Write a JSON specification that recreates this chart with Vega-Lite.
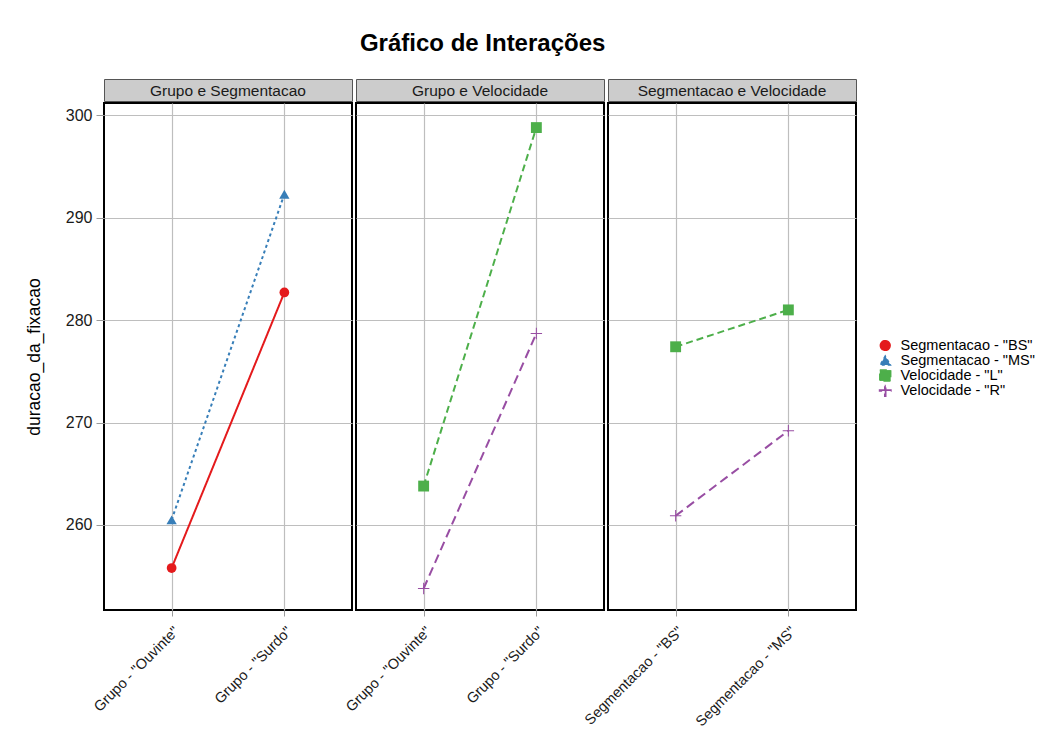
{
  "$schema": "https://vega.github.io/schema/vega-lite/v6.json",
  "background": "white",
  "padding": {"left": 24, "top": 31, "right": 5, "bottom": 5},
  "title": {"text": "Gráfico de Interações", "fontSize": 24, "fontWeight": "bold", "font": "Liberation Sans", "color": "black", "anchor": "middle", "dx": -47, "offset": 23},
  "config": {
    "font": "Liberation Sans",
    "axis": {"gridColor": "#bebebe", "gridWidth": 1.2, "tickColor": "#9a9a9a", "tickSize": 6, "domain": false, "labelColor": "#1a1a1a", "labelFont": "Liberation Sans", "titleFont": "Liberation Sans"},
    "legend": {"labelFont": "Liberation Sans"}
  },
  "datasets": {
    "d": [
      {"panel": "Grupo e Segmentacao", "x": "Grupo - \"Ouvinte\"", "serie": "Segmentacao - \"BS\"", "valor": 255.8},
      {"panel": "Grupo e Segmentacao", "x": "Grupo - \"Surdo\"", "serie": "Segmentacao - \"BS\"", "valor": 282.7},
      {"panel": "Grupo e Segmentacao", "x": "Grupo - \"Ouvinte\"", "serie": "Segmentacao - \"MS\"", "valor": 260.5},
      {"panel": "Grupo e Segmentacao", "x": "Grupo - \"Surdo\"", "serie": "Segmentacao - \"MS\"", "valor": 292.3},
      {"panel": "Grupo e Velocidade", "x": "Grupo - \"Ouvinte\"", "serie": "Velocidade - \"L\"", "valor": 263.8},
      {"panel": "Grupo e Velocidade", "x": "Grupo - \"Surdo\"", "serie": "Velocidade - \"L\"", "valor": 298.8},
      {"panel": "Grupo e Velocidade", "x": "Grupo - \"Ouvinte\"", "serie": "Velocidade - \"R\"", "valor": 253.8},
      {"panel": "Grupo e Velocidade", "x": "Grupo - \"Surdo\"", "serie": "Velocidade - \"R\"", "valor": 278.7},
      {"panel": "Segmentacao e Velocidade", "x": "Segmentacao - \"BS\"", "serie": "Velocidade - \"L\"", "valor": 277.4},
      {"panel": "Segmentacao e Velocidade", "x": "Segmentacao - \"MS\"", "serie": "Velocidade - \"L\"", "valor": 281.0},
      {"panel": "Segmentacao e Velocidade", "x": "Segmentacao - \"BS\"", "serie": "Velocidade - \"R\"", "valor": 260.9},
      {"panel": "Segmentacao e Velocidade", "x": "Segmentacao - \"MS\"", "serie": "Velocidade - \"R\"", "valor": 269.2}
    ]
  },
  "spacing": 0,
  "vconcat": [
    {
      "spacing": 4,
      "bounds": "flush",
      "hconcat": [
        {
          "width": 248, "height": 22,
          "data": {"name": "d"},
          "transform": [{"filter": "datum.panel === 'Grupo e Segmentacao'"}, {"aggregate": [{"op": "count", "as": "n"}], "groupby": ["panel"]}],
          "view": {"fill": "#cccccc", "stroke": "#555555", "strokeWidth": 1},
          "mark": {"type": "text", "fontSize": 15.5, "color": "#1a1a1a", "baseline": "middle", "dy": 1},
          "encoding": {"text": {"field": "panel"}}
        },
        {
          "width": 248, "height": 22,
          "data": {"name": "d"},
          "transform": [{"filter": "datum.panel === 'Grupo e Velocidade'"}, {"aggregate": [{"op": "count", "as": "n"}], "groupby": ["panel"]}],
          "view": {"fill": "#cccccc", "stroke": "#555555", "strokeWidth": 1},
          "mark": {"type": "text", "fontSize": 15.5, "color": "#1a1a1a", "baseline": "middle", "dy": 1},
          "encoding": {"text": {"field": "panel"}}
        },
        {
          "width": 248, "height": 22,
          "data": {"name": "d"},
          "transform": [{"filter": "datum.panel === 'Segmentacao e Velocidade'"}, {"aggregate": [{"op": "count", "as": "n"}], "groupby": ["panel"]}],
          "view": {"fill": "#cccccc", "stroke": "#555555", "strokeWidth": 1},
          "mark": {"type": "text", "fontSize": 15.5, "color": "#1a1a1a", "baseline": "middle", "dy": 1},
          "encoding": {"text": {"field": "panel"}}
        }
      ]
    },
    {
      "spacing": 4,
      "bounds": "flush",
      "hconcat": [
        {
          "width": 248, "height": 507,
          "data": {"name": "d"},
          "transform": [{"filter": "datum.panel === 'Grupo e Segmentacao'"}],
          "view": {"stroke": "black", "strokeWidth": 2},
          "encoding": {
            "x": {"field": "x", "type": "nominal", "sort": null, "scale": {"type": "point", "padding": 0.6}, "axis": {"title": null, "labelAngle": -45, "labelFontSize": 14.5, "grid": true, "labelPadding": 8}},
            "y": {"field": "valor", "type": "quantitative", "scale": {"domain": [251.7, 301.2], "nice": false, "zero": false}, "axis": {"title": "duracao_da_fixacao", "titleFontSize": 17.5, "titleFontWeight": "normal", "titleColor": "black", "titlePadding": 22, "labelFontSize": 16, "tickSize": 8, "labelPadding": 4, "values": [260, 270, 280, 290, 300], "grid": true}},
            "color": {"field": "serie", "type": "nominal", "scale": {"domain": ["Segmentacao - \"BS\"", "Segmentacao - \"MS\"", "Velocidade - \"L\"", "Velocidade - \"R\""], "range": ["#E41A1C", "#377EB8", "#4DAF4A", "#984EA3"]}, "legend": {"title": null, "orient": "none", "legendX": 774, "legendY": 260, "labelFontSize": 14.5, "symbolSize": 110, "clipHeight": 13, "rowPadding": 0, "labelOffset": 8, "labelColor": "black"}},
            "size": {"field": "serie", "type": "nominal", "scale": {"domain": ["Segmentacao - \"BS\"", "Segmentacao - \"MS\"", "Velocidade - \"L\"", "Velocidade - \"R\""], "range": [95, 130, 115, 250]}, "legend": null}
          },
          "layer": [
            {"mark": {"type": "line", "strokeWidth": 2}, "encoding": {"size": {"value": 2}, "strokeDash": {"field": "serie", "type": "nominal", "scale": {"domain": ["Segmentacao - \"BS\"", "Segmentacao - \"MS\"", "Velocidade - \"L\"", "Velocidade - \"R\""], "range": [[1, 0], [3, 3], [7, 4], [9, 5]]}, "legend": null}}},
            {"mark": {"type": "point", "filled": true, "opacity": 1}, "encoding": {"shape": {"field": "serie", "type": "nominal", "scale": {"domain": ["Segmentacao - \"BS\"", "Segmentacao - \"MS\"", "Velocidade - \"L\"", "Velocidade - \"R\""], "range": ["circle", "triangle-up", "square", "M-1,-0.09H-0.09V-1H0.09V-0.09H1V0.09H0.09V1H-0.09V0.09H-1Z"]}, "legend": {"title": null, "orient": "none", "legendX": 774, "legendY": 260}}}}
          ]
        },
        {
          "width": 248, "height": 507,
          "data": {"name": "d"},
          "transform": [{"filter": "datum.panel === 'Grupo e Velocidade'"}],
          "view": {"stroke": "black", "strokeWidth": 2},
          "encoding": {
            "x": {"field": "x", "type": "nominal", "sort": null, "scale": {"type": "point", "padding": 0.6}, "axis": {"title": null, "labelAngle": -45, "labelFontSize": 14.5, "grid": true, "labelPadding": 8}},
            "y": {"field": "valor", "type": "quantitative", "scale": {"domain": [251.7, 301.2], "nice": false, "zero": false}, "axis": {"title": null, "labels": false, "ticks": false, "values": [260, 270, 280, 290, 300], "grid": true}},
            "color": {"field": "serie", "type": "nominal", "scale": {"domain": ["Segmentacao - \"BS\"", "Segmentacao - \"MS\"", "Velocidade - \"L\"", "Velocidade - \"R\""], "range": ["#E41A1C", "#377EB8", "#4DAF4A", "#984EA3"]}, "legend": {"title": null, "orient": "none", "legendX": 774, "legendY": 260, "labelFontSize": 14.5, "symbolSize": 110, "clipHeight": 13, "rowPadding": 0, "labelOffset": 8, "labelColor": "black"}},
            "size": {"field": "serie", "type": "nominal", "scale": {"domain": ["Segmentacao - \"BS\"", "Segmentacao - \"MS\"", "Velocidade - \"L\"", "Velocidade - \"R\""], "range": [95, 130, 115, 250]}, "legend": null}
          },
          "layer": [
            {"mark": {"type": "line", "strokeWidth": 2}, "encoding": {"size": {"value": 2}, "strokeDash": {"field": "serie", "type": "nominal", "scale": {"domain": ["Segmentacao - \"BS\"", "Segmentacao - \"MS\"", "Velocidade - \"L\"", "Velocidade - \"R\""], "range": [[1, 0], [3, 3], [7, 4], [9, 5]]}, "legend": null}}},
            {"mark": {"type": "point", "filled": true, "opacity": 1}, "encoding": {"shape": {"field": "serie", "type": "nominal", "scale": {"domain": ["Segmentacao - \"BS\"", "Segmentacao - \"MS\"", "Velocidade - \"L\"", "Velocidade - \"R\""], "range": ["circle", "triangle-up", "square", "M-1,-0.09H-0.09V-1H0.09V-0.09H1V0.09H0.09V1H-0.09V0.09H-1Z"]}, "legend": {"title": null, "orient": "none", "legendX": 774, "legendY": 260}}}}
          ]
        },
        {
          "width": 248, "height": 507,
          "data": {"name": "d"},
          "transform": [{"filter": "datum.panel === 'Segmentacao e Velocidade'"}],
          "view": {"stroke": "black", "strokeWidth": 2},
          "encoding": {
            "x": {"field": "x", "type": "nominal", "sort": null, "scale": {"type": "point", "padding": 0.6}, "axis": {"title": null, "labelAngle": -45, "labelFontSize": 14.5, "grid": true, "labelPadding": 8}},
            "y": {"field": "valor", "type": "quantitative", "scale": {"domain": [251.7, 301.2], "nice": false, "zero": false}, "axis": {"title": null, "labels": false, "ticks": false, "values": [260, 270, 280, 290, 300], "grid": true}},
            "color": {"field": "serie", "type": "nominal", "scale": {"domain": ["Segmentacao - \"BS\"", "Segmentacao - \"MS\"", "Velocidade - \"L\"", "Velocidade - \"R\""], "range": ["#E41A1C", "#377EB8", "#4DAF4A", "#984EA3"]}, "legend": {"title": null, "orient": "none", "legendX": 774, "legendY": 260, "labelFontSize": 14.5, "symbolSize": 110, "clipHeight": 13, "rowPadding": 0, "labelOffset": 8, "labelColor": "black"}},
            "size": {"field": "serie", "type": "nominal", "scale": {"domain": ["Segmentacao - \"BS\"", "Segmentacao - \"MS\"", "Velocidade - \"L\"", "Velocidade - \"R\""], "range": [95, 130, 115, 250]}, "legend": null}
          },
          "layer": [
            {"mark": {"type": "line", "strokeWidth": 2}, "encoding": {"size": {"value": 2}, "strokeDash": {"field": "serie", "type": "nominal", "scale": {"domain": ["Segmentacao - \"BS\"", "Segmentacao - \"MS\"", "Velocidade - \"L\"", "Velocidade - \"R\""], "range": [[1, 0], [3, 3], [7, 4], [9, 5]]}, "legend": null}}},
            {"mark": {"type": "point", "filled": true, "opacity": 1}, "encoding": {"shape": {"field": "serie", "type": "nominal", "scale": {"domain": ["Segmentacao - \"BS\"", "Segmentacao - \"MS\"", "Velocidade - \"L\"", "Velocidade - \"R\""], "range": ["circle", "triangle-up", "square", "M-1,-0.09H-0.09V-1H0.09V-0.09H1V0.09H0.09V1H-0.09V0.09H-1Z"]}, "legend": {"title": null, "orient": "none", "legendX": 774, "legendY": 260}}}}
          ]
        }
      ]
    }
  ]
}
